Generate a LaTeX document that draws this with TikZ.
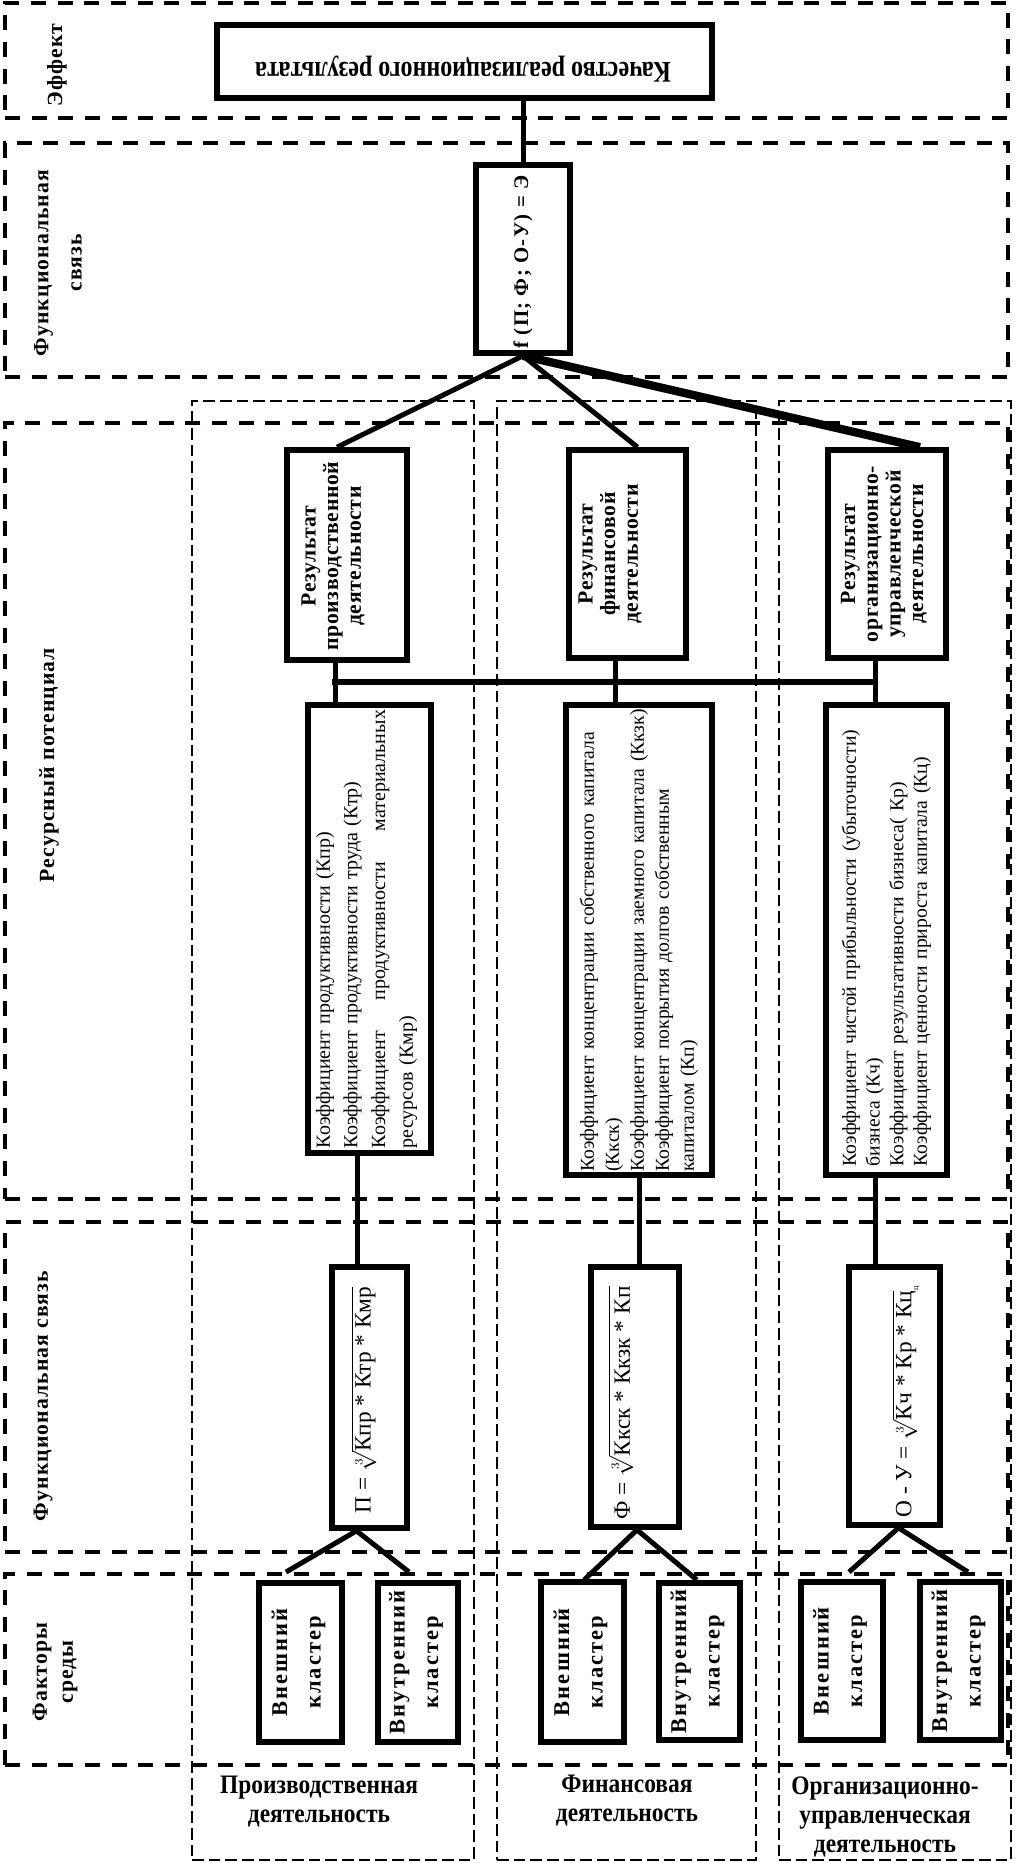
\documentclass[tikz,border=0pt]{standalone}
\usepackage{fontspec}
\setmainfont{Liberation Serif}
\newfontfamily\lsp[LetterSpace=5]{Liberation Serif}
\newfontfamily\lsc[LetterSpace=9]{Liberation Serif}
\newfontfamily\lsr[LetterSpace=3]{Liberation Serif}
\newfontfamily\lsf[LetterSpace=6]{Liberation Serif}
\usetikzlibrary{calc,fit}
\begin{document}
\begin{tikzpicture}[x=0.6pt,y=-0.6pt,
  band/.style={draw, line width=2.4pt, dash pattern=on 9pt off 7pt, inner sep=0pt},
  colbox/.style={draw, line width=1.1pt, dash pattern=on 7pt off 3pt, inner sep=0pt},
  box/.style={draw, line width=3.4pt, inner sep=0pt},
  conn/.style={line width=3pt},
  rt/.style={rotate=90, inner sep=0pt, align=center},
  side/.style={rt, font=\lsp\bfseries\fontsize{13}{20}\selectfont},
  restxt/.style={rt, font=\lsr\bfseries\fontsize{13}{13.6}\selectfont},
  clutxt/.style={rt, font=\lsc\bfseries\fontsize{13.5}{20}\selectfont},
  coeftxt/.style={rt, align=left},
  formtxt/.style={rt, font=\fontsize{14}{16}\selectfont},
  coltxt/.style={inner sep=0pt, font=\bfseries\fontsize{16}{17.4}\selectfont},
]
\useasboundingbox (0,0) rectangle (1016,1863);

% horizontal bands
\node[band, fit={(5,3)(1008,118)}] (bandE) {};
\node[band, fit={(5,143)(1008,377)}] (bandF1) {};
\node[band, fit={(5,423)(1008,1199)}] (bandR) {};
\node[band, fit={(5,1222)(1008,1552)}] (bandF2) {};
\node[band, fit={(5,1574)(1008,1765)}] (bandS) {};

% activity columns
\node[colbox, fit={(192,401)(474,1860)}] (col1) {};
\node[colbox, fit={(497,401)(756,1860)}] (col2) {};
\node[colbox, fit={(779,401)(1011,1860)}] (col3) {};

% side labels
\node[side] (lE) at (57,65) {Эффект};
\node[side] (lF1) at (58,263) {Функциональная\\связь};
\node[side] (lR) at (49,765) {Ресурсный потенциал};
\node[side] (lF2) at (43,1396) {Функциональная связь};
\node[rt, font=\lsp\bfseries\fontsize{13}{15.6}\selectfont] (lS) at (55,1672) {Факторы\\среды};

% effect
\node[box, fit={(217,25)(712,98)}] (eff) {};
\node[rotate=180, inner sep=0pt] (efft) at (463,69) {\scalebox{0.8}[1]{\bfseries\fontsize{18}{20}\selectfont Качество реализационного результата}};

% function box
\node[box, fit={(476,165)(570,353)}] (fb) {};
\node[rt, font=\lsf\bfseries\fontsize{12.5}{14}\selectfont] (fbt) at (523,262) {f (П; Ф; О-У) = Э};

% results
\node[box, fit={(287,450)(407,660)}] (r1) {};
\node[box, fit={(569,450)(686,658)}] (r2) {};
\node[box, fit={(828,450)(946,658)}] (r3) {};
\node[restxt] (r1t) at (333,556) {Результат\\производственной\\деятельности};
\node[restxt] (r2t) at (610,554) {Результат\\финансовой\\деятельности};
\node[restxt] (r3t) at (884,554) {Результат\\организационно-\\управленческой\\деятельности};

% coefficients
\node[box, fit={(308,705)(431,1153)}] (c1) {};
\node[box, fit={(566,705)(712,1175)}] (c2) {};
\node[box, fit={(826,705)(947,1175)}] (c3) {};
\node[coeftxt, text width=263pt, font=\fontsize{12}{16.6}\selectfont] (c1t) at ($(c1.center)+(-3,0)$) {Коэффициент продуктивности (Кпр)\\
Коэффициент продуктивности труда (Ктр)\\
Коэффициент\hfill продуктивности\hfill материальных\\
ресурсов (Кмр)};
\node[coeftxt, text width=284pt, font=\fontsize{11.8}{15}\selectfont] (c2t) at ($(c2.center)+(0,-5)$) {Коэффициент концентрации собственного капитала\\
(Ккск)\\
Коэффициент концентрации заемного капитала (Ккзк)\\
Коэффициент покрытия долгов собственным\\
капиталом (Кп)};
\node[coeftxt, text width=274pt, font=\fontsize{11.8}{14.2}\selectfont] (c3t) at ($(c3.center)+(0,-2)$) {Коэффициент чистой прибыльности (убыточности)\\
бизнеса (Кч)\\
Коэффициент результативности бизнеса( Кр)\\
Коэффициент ценности прироста капитала (Кц)};

% formulas
\node[box, fit={(332,1267)(407,1528)}] (f1) {};
\node[box, fit={(591,1267)(679,1527)}] (f2) {};
\node[box, fit={(849,1267)(940,1525)}] (f3) {};
\node[formtxt] (f1t) at (364,1400) {П = $\sqrt[3]{\mbox{Кпр * Ктр * Кмр}}$};
\node[formtxt] (f2t) at (621,1403) {Ф = $\sqrt[3]{\mbox{Ккск * Ккзк * Кп}}$};
\node[formtxt] (f3t) at (906,1402) {О - У = $\sqrt[3]{\mbox{Кч * Кр * Кц}}$\raisebox{-4pt}{\tiny ц}};

% clusters
\node[box, fit={(259,1583)(342,1742)}] (e1) {};
\node[box, fit={(378,1583)(458,1742)}] (i1) {};
\node[box, fit={(541,1582)(624,1742)}] (e2) {};
\node[box, fit={(659,1583)(740,1740)}] (i2) {};
\node[box, fit={(801,1582)(883,1740)}] (e3) {};
\node[box, fit={(920,1582)(1001,1740)}] (i3) {};
\node[clutxt] (e1t) at ($(e1.center)+(-2,0)$) {Внешний\\кластер};
\node[clutxt] (i1t) at ($(i1.center)+(-2,0)$) {Внутренний\\кластер};
\node[clutxt] (e2t) at ($(e2.center)+(-2,0)$) {Внешний\\кластер};
\node[clutxt] (i2t) at ($(i2.center)+(-2,0)$) {Внутренний\\кластер};
\node[clutxt] (e3t) at ($(e3.center)+(-2,0)$) {Внешний\\кластер};
\node[clutxt] (i3t) at ($(i3.center)+(-2,0)$) {Внутренний\\кластер};

% column labels
\node[coltxt] (lab1) at (319,1802) {\scalebox{0.88}[1]{\begin{tabular}{@{}c@{}}Производственная\\деятельность\end{tabular}}};
\node[coltxt] (lab2) at (627,1801) {\scalebox{0.88}[1]{\begin{tabular}{@{}c@{}}Финансовая\\деятельность\end{tabular}}};
\node[coltxt] (lab3) at (885,1818) {\scalebox{0.88}[1]{\begin{tabular}{@{}c@{}}Организационно-\\управленческая\\деятельность\end{tabular}}};

% connectors
\draw[conn] (fb.north) -- (fb.north |- eff.south);
\draw[conn] (fb.south) -- ($(r1.north)+(-10,0)$);
\draw[conn] (fb.south) -- ($(r2.north)+(10,0)$);
\draw[conn, line width=5pt] (fb.south) -- ($(r3.north)+(33,0)$);

\coordinate (b1) at (335,682);
\coordinate (b2) at (615,682);
\coordinate (b3) at (875,682);
\draw[conn, line width=3.6pt, line cap=rect] (b1) -- (b3);
\draw[conn] (b1 |- r1.south) -- (b1 |- c1.north);
\draw[conn] (b2 |- r2.south) -- (b2 |- c2.north);
\draw[conn] (b3 |- r3.south) -- (b3 |- c3.north);

\coordinate (s1) at (357,1200);
\coordinate (s2) at (639,1200);
\coordinate (s3) at (875,1200);
\draw[conn] (s1 |- c1.south) -- (s1 |- f1.north);
\draw[conn] (s2 |- c2.south) -- (s2 |- f2.north);
\draw[conn] (s3 |- c3.south) -- (s3 |- f3.north);

\coordinate (ce1) at (286,1572);
\coordinate (ci1) at (409,1572);
\coordinate (ce2) at (584,1580);
\coordinate (ci2) at (697,1580);
\coordinate (ce3) at (849,1572);
\coordinate (ci3) at (968,1572);
\draw[conn] ($(f1.south)+(-13,0)$) -- (ce1);
\draw[conn] ($(f1.south)+(-13,0)$) -- (ci1);
\draw[conn] ($(f2.south)+(2,0)$) -- (ce2);
\draw[conn] ($(f2.south)+(2,0)$) -- (ci2);
\draw[conn] ($(f3.south)+(4,0)$) -- (ce3);
\draw[conn] ($(f3.south)+(4,0)$) -- (ci3);
\end{tikzpicture}
\end{document}
